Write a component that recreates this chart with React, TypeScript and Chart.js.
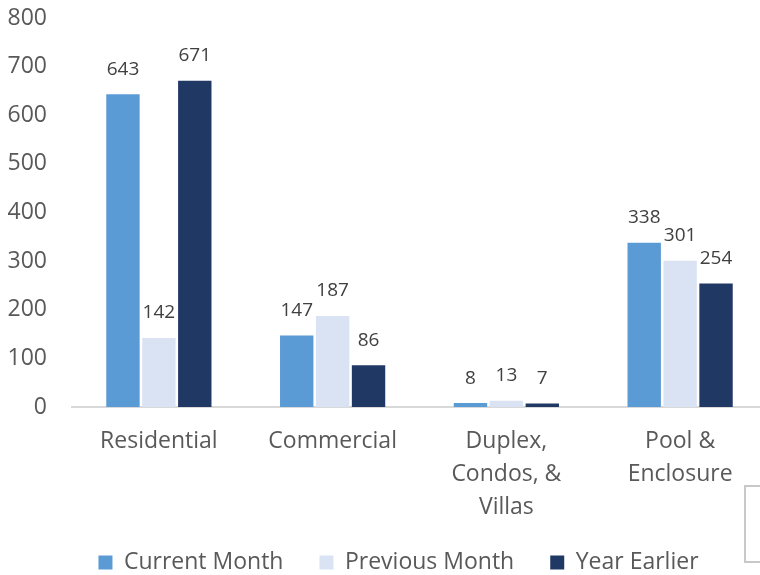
import React, { useEffect, useRef } from "react";
import { Chart, registerables } from "chart.js";

Chart.register(...registerables);

const categories: (string | string[])[] = [
  "Residential",
  "Commercial",
  ["Duplex,", "Condos, &", "Villas"],
  ["Pool &", "Enclosure"],
];
const currentMonth = [643, 147, 8, 338];
const previousMonth = [142, 187, 13, 301];
const yearEarlier = [671, 86, 7, 254];
const seriesNames = ["Current Month", "Previous Month", "Year Earlier"];
const seriesColors = ["#5b9bd5", "#dae3f3", "#203864"];
const yTicks = { min: 0, max: 800, step: 100 };

const FONT = "'Open Sans', sans-serif";

const dataLabels = {
  id: "dataLabels",
  afterDatasetsDraw(chart: any) {
    const ctx = chart.ctx;
    ctx.save();
    ctx.font = `19px ${FONT}`;
    ctx.fillStyle = "#404040";
    ctx.textAlign = "center";
    ctx.textBaseline = "middle";
    chart.data.datasets.forEach((ds: any, i: number) => {
      const meta = chart.getDatasetMeta(i);
      meta.data.forEach((el: any, j: number) => {
        ctx.fillText(String(ds.data[j]), el.x, el.y - 25);
      });
    });
    ctx.restore();
  },
};

const legendShift = {
  id: "legendShift",
  afterLayout(chart: any) {
    if (chart.legend) {
      chart.legend.left += 15;
      chart.legend.right += 15;
    }
  },
};

export default function App() {
  const ref = useRef<HTMLCanvasElement | null>(null);
  useEffect(() => {
    if (!ref.current) return;
    const values = [currentMonth, previousMonth, yearEarlier];
    const chart = new Chart(ref.current, {
      type: "bar",
      data: {
        labels: categories,
        datasets: values.map((v, i) => ({
          label: seriesNames[i],
          data: v,
          backgroundColor: seriesColors[i],
          borderWidth: 0,
          categoryPercentage: 0.62,
          barPercentage: 0.93,
        })),
      },
      options: {
        animation: false,
        responsive: false,
        devicePixelRatio: 1,
        layout: { padding: { left: 0, right: 8, top: 18, bottom: 0 } },
        plugins: {
          tooltip: { enabled: false },
          legend: {
            position: "bottom",
            labels: {
              boxWidth: 14,
              boxHeight: 14,
              padding: 36,
              color: "#595959",
              font: { family: FONT, size: 23 },
            },
          },
        },
        scales: {
          x: {
            grid: { display: false, drawTicks: false },
            border: { display: true, color: "#d9d9d9", width: 2 },
            ticks: {
              color: "#595959",
              font: { family: FONT, size: 23, lineHeight: 1.43 },
              padding: 18,
              maxRotation: 0,
              autoSkip: false,
            },
            afterFit(scale: any) {
              scale.height = 108;
              scale.paddingLeft = 0;
              scale.paddingRight = 0;
            },
          },
          y: {
            min: yTicks.min,
            max: yTicks.max,
            grid: { display: false, drawTicks: false },
            border: { display: false },
            ticks: {
              stepSize: yTicks.step,
              color: "#595959",
              font: { family: FONT, size: 23 },
              padding: 25,
            },
            afterFit(scale: any) {
              scale.width = 72;
              scale.paddingTop = 0;
              scale.paddingBottom = 0;
            },
          },
        },
      },
      plugins: [dataLabels, legendShift],
    });
    return () => chart.destroy();
  }, []);

  return (
    <div
      style={{
        position: "absolute",
        left: 0,
        top: 0,
        width: 760,
        height: 575,
        overflow: "hidden",
        background: "#ffffff",
      }}
    >
      <canvas ref={ref} width={775} height={584} style={{ display: "block" }} />
      <div
        style={{
          position: "absolute",
          left: 744,
          top: 485,
          width: 30,
          height: 78,
          border: "2px solid #c8c8c8",
          boxSizing: "border-box",
        }}
      />
    </div>
  );
}
